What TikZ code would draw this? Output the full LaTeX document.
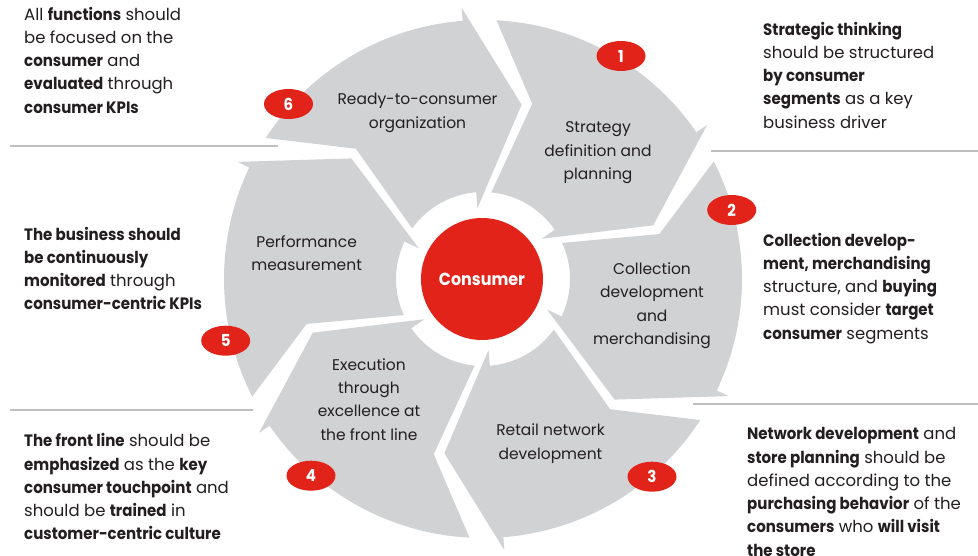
\documentclass[tikz,border=0pt]{standalone}
\usepackage{fontspec}
\setmainfont{Poppins}[BoldFeatures={FakeStretch=0.91}]
\usetikzlibrary{shapes.geometric}
\definecolor{seggray}{RGB}{209,210,212}
\definecolor{badgered}{RGB}{226,35,26}
\definecolor{inktext}{RGB}{35,31,32}
\definecolor{rulegray}{RGB}{190,191,193}
\tikzset{
  seg/.style={fill=seggray},
  segtext/.style={text=inktext, font=\fontsize{15.5}{23.3}\selectfont, align=center, inner sep=0pt},
  sidetext/.style={text=inktext, font=\fontsize{16.5}{23.3}\selectfont, align=left, inner sep=0pt, anchor=west},
  badge/.style={ellipse, fill=badgered, minimum width=49pt, minimum height=30pt, inner sep=0pt, text=white, font=\fontsize{16.5}{16.5}\selectfont\bfseries},
  sepline/.style={draw=rulegray, line width=1.3pt},
}
\begin{document}
\begin{tikzpicture}[x=1pt,y=-1pt]
\useasboundingbox[fill=white] (0,0) rectangle (978,556);
% ring segments
\begin{scope}[shift={(483,279)}, yscale=-1]
\foreach \k in {1,...,6}{
  \pgfmathsetmacro\B{94.5-60*\k}
  \pgfmathsetmacro\Bt{\B+52.5}
  \pgfmathsetmacro\Btip{\B-17}
  \pgfmathsetmacro\Bi{\B+50}
  \pgfmathsetmacro\Bn{\B+39.8}
  \fill[seg] (\Bt:259) arc[start angle=\Bt, end angle=\B, radius=259]
    -- (\B:272) -- (\Btip:178.5) -- (\B:71) -- (\B:87)
    arc[start angle=\B, end angle=\Bi, radius=87]
    -- (\Bn:182) -- cycle;
}
\end{scope}
% centre
\node[circle, fill=badgered, minimum size=122pt, inner sep=0pt, text=white, font=\fontsize{17.5}{17.5}\selectfont\bfseries] (consumer) at (482,279) {Consumer};
% segment labels
\node[segtext] (s6) at (417.5,111.7) {\strut Ready-to-consumer\\organization\strut};
\node[segtext] (s1) at (598,151.5) {\strut Strategy\\definition and\\planning\strut};
\node[segtext] (s2) at (652,304.7) {\strut Collection\\development\\and\\merchandising\strut};
\node[segtext] (s3) at (550.5,442.9) {\strut Retail network\\development\strut};
\node[segtext] (s4) at (369,400.4) {\strut Execution\\through\\excellence at\\the front line\strut};
\node[segtext] (s5) at (306.6,254) {\strut Performance\\measurement\strut};
% badges
\node[badge] (b1) at (621,56) {1};
\node[badge] (b2) at (731.7,210) {2};
\node[badge] (b3) at (652,476.7) {3};
\node[badge] (b4) at (311,475.7) {4};
\node[badge] (b5) at (225.7,340.7) {5};
\node[badge] (b6) at (288.5,104) {6};
% separator rules
\draw[sepline] (10,146) -- (278,146);
\draw[sepline] (10,410) -- (253,410);
\draw[sepline] (711,151) -- (978,151);
\draw[sepline] (693,404) -- (978,404);
% side texts
\node[sidetext] (tl) at (24,62) {\strut All \textbf{functions} should\\be focused on the\\\textbf{consumer} and\\\textbf{evaluated} through\\\textbf{consumer KPIs}\strut};
\node[sidetext] (ml) at (24,270.3) {\strut\textbf{The business should}\\\textbf{be continuously}\\\textbf{monitored} through\\\textbf{consumer-centric KPIs}\strut};
\node[sidetext] (bl) at (24,488.7) {\strut\textbf{The front line} should be\\\textbf{emphasized} as the \textbf{key}\\\textbf{consumer touchpoint} and\\should be \textbf{trained} in\\\textbf{customer-centric culture}\strut};
\node[sidetext] (tr) at (763,77) {\strut\textbf{Strategic thinking}\\should be structured\\\textbf{by consumer}\\\textbf{segments} as a key\\business driver\strut};
\node[sidetext] (mr) at (763,288) {\strut\textbf{Collection develop-}\\\textbf{ment, merchandising}\\structure, and \textbf{buying}\\must consider \textbf{target}\\\textbf{consumer} segments\strut};
\node[sidetext] (br) at (747,493.3) {\strut\textbf{Network development} and\\\textbf{store planning} should be\\defined according to the\\\textbf{purchasing behavior} of the\\\textbf{consumers} who \textbf{will visit}\\\textbf{the store}\strut};
\end{tikzpicture}
\end{document}
